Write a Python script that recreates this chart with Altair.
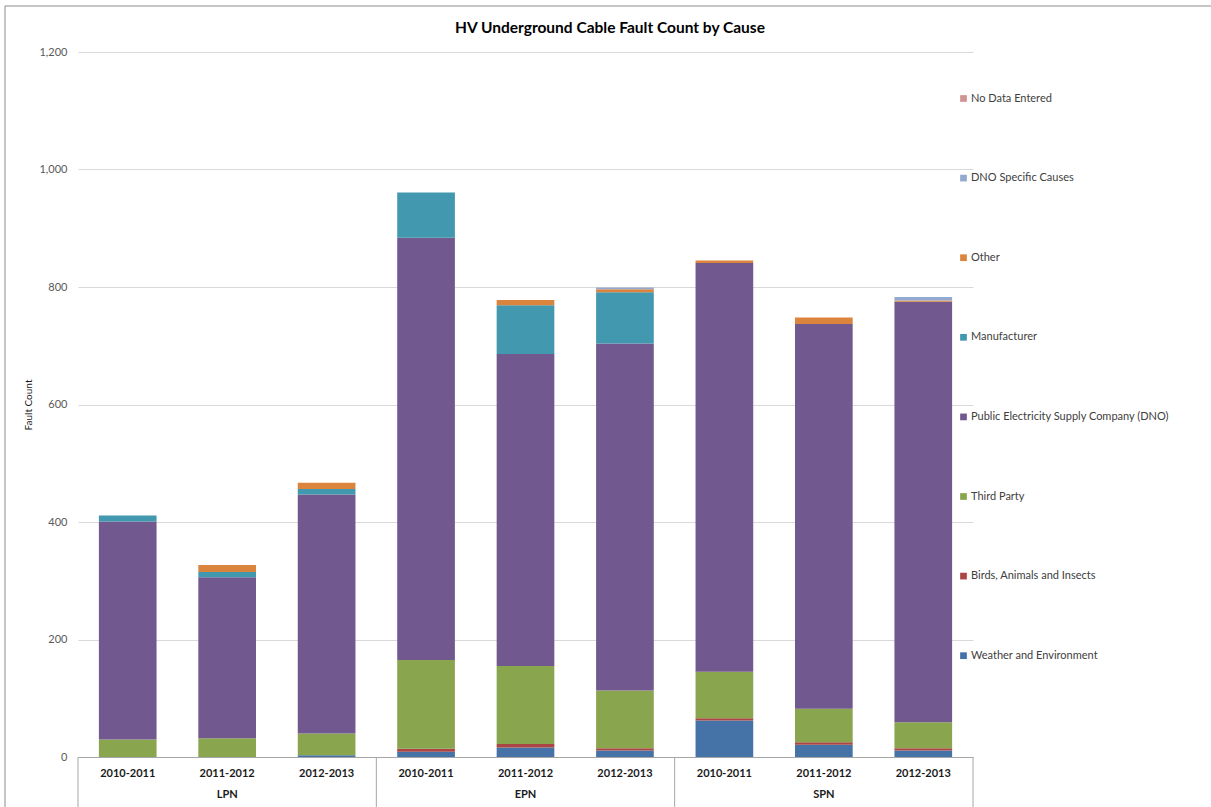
import altair as alt
import pandas as pd

# Regions and reporting years
regions = ["LPN", "EPN", "SPN"]
years = ["2010-2011", "2011-2012", "2012-2013"]

# Fault counts per cause, one value per region/year (LPN x3, EPN x3, SPN x3)
weather = [0, 0, 3, 9, 16, 11, 62, 21, 11]
birds = [0, 0, 0, 5, 6, 4, 4, 4, 4]
third_party = [30, 32, 37, 151, 133, 98, 79, 57, 44]
dno = [371, 274, 407, 719, 531, 591, 696, 655, 716]
manufacturer = [10, 9, 9, 77, 83, 87, 0, 0, 0]
other = [0, 12, 11, 0, 9, 5, 4, 11, 2]
dno_specific = [0, 0, 0, 0, 0, 3, 0, 0, 6]
no_data = [0, 0, 0, 0, 0, 0, 0, 0, 0]

TITLE = "HV Underground Cable Fault Count by Cause"

# Causes in stacking order (bottom to top) with their colours
causes = [
    ("Weather and Environment", weather, "#4572A7"),
    ("Birds, Animals and Insects", birds, "#AA4643"),
    ("Third Party", third_party, "#89A54E"),
    ("Public Electricity Supply Company (DNO)", dno, "#71588F"),
    ("Manufacturer", manufacturer, "#4198AF"),
    ("Other", other, "#DB843D"),
    ("DNO Specific Causes", dno_specific, "#93A9CF"),
    ("No Data Entered", no_data, "#D19392"),
]

keys = [f"{r}|{y}" for r in regions for y in years]

rows = []
for idx, (name, vals, _) in enumerate(causes):
    for k, v in zip(keys, vals):
        rows.append({"key": k, "cause": name, "count": v, "stack": idx})
df = pd.DataFrame(rows)

legend_domain = [c[0] for c in causes][::-1]
legend_range = [c[2] for c in causes][::-1]

FONT = "Lato"
W, H = 895, 705
PAD_IN, PAD_OUT = 0.42, 0.21
HALF_GAP = W / len(keys) * PAD_IN / 2  # half the gap between neighbouring bars

x_scale = alt.Scale(domain=keys, paddingInner=PAD_IN, paddingOuter=PAD_OUT)

x_enc = alt.X(
    "key:N",
    sort=keys,
    scale=x_scale,
    axis=alt.Axis(
        title=None,
        labelExpr="split(datum.value, '|')[1]",
        labelAngle=0,
        labelFontWeight="bold",
        labelFontSize=11,
        labelColor="#1a1a1a",
        labelFont=FONT,
        ticks=False,
        labelPadding=10,
        domainColor="#A6A6A6",
        grid=False,
    ),
)

bars = alt.Chart(df).mark_bar().encode(
    x=x_enc,
    y=alt.Y(
        "sum(count):Q",
        stack="zero",
        scale=alt.Scale(domain=[0, 1200]),
        axis=alt.Axis(
            title="Fault Count",
            values=[0, 200, 400, 600, 800, 1000, 1200],
            format=",.0f",
            domain=False,
            ticks=False,
            labelPadding=11,
            labelFontSize=11,
            labelColor="#595959",
            labelFont=FONT,
            titleFont=FONT,
            titleFontSize=10,
            titleFontWeight="normal",
            titleColor="#1a1a1a",
            titlePadding=5,
            gridColor="#D9D9D9",
        ),
    ),
    color=alt.Color(
        "cause:N",
        scale=alt.Scale(domain=legend_domain, range=legend_range),
        legend=alt.Legend(
            title=None,
            orient="none",
            legendX=880,
            legendY=41,
            symbolType="square",
            symbolSize=45,
            symbolStrokeWidth=0,
            labelFontSize=11,
            labelFont=FONT,
            labelColor="#404040",
            labelOffset=2,
            rowPadding=67.6,
            padding=0,
            labelLimit=300,
        ),
    ),
    order=alt.Order("stack:Q", sort="ascending"),
)

# Region group labels under the year labels
group_df = pd.DataFrame({"key": [f"{r}|{years[1]}" for r in regions], "label": regions})
group_text = alt.Chart(group_df).mark_text(
    fontWeight="bold", fontSize=11, font=FONT, color="#1a1a1a", baseline="middle"
).encode(
    x=alt.X("key:N", sort=keys, scale=x_scale),
    y=alt.value(743),
    text="label:N",
)

# Vertical separators between the region groups
sep_left = pd.DataFrame({"key": [f"{r}|{years[0]}" for r in regions]})
sep_right = pd.DataFrame({"key": [keys[-1]]})
sep_a = alt.Chart(sep_left).mark_rule(color="#A6A6A6", strokeWidth=1, xOffset=-HALF_GAP).encode(
    x=alt.X("key:N", sort=keys, bandPosition=0, scale=x_scale),
    y=alt.value(705),
    y2=alt.value(755),
)
sep_b = alt.Chart(sep_right).mark_rule(color="#A6A6A6", strokeWidth=1, xOffset=HALF_GAP).encode(
    x=alt.X("key:N", sort=keys, bandPosition=1, scale=x_scale),
    y=alt.value(705),
    y2=alt.value(755),
)

# Chart title
title_df = pd.DataFrame({"t": [TITLE]})
title = alt.Chart(title_df).mark_text(
    font=FONT, fontSize=15.5, fontWeight="bold", color="#000000", baseline="middle", align="center"
).encode(x=alt.value(532), y=alt.value(-24), text="t:N")

# Chart-area frame (top and left edges)
frame_df = pd.DataFrame({"edge": ["top", "left"]})
frame_top = alt.Chart(frame_df.iloc[[0]]).mark_rule(color="#8C8C8C", strokeWidth=1).encode(
    x=alt.value(-73), x2=alt.value(1140), y=alt.value(-46)
)
frame_left = alt.Chart(frame_df.iloc[[1]]).mark_rule(color="#8C8C8C", strokeWidth=1).encode(
    x=alt.value(-73), y=alt.value(-46), y2=alt.value(760)
)

chart = alt.layer(bars, group_text, sep_a, sep_b, title, frame_top, frame_left).properties(
    width=W,
    height=H,
    autosize=alt.AutoSizeParams(type="none"),
    padding={"left": 78, "top": 52, "right": 238, "bottom": 50},
    background="white",
).configure_view(stroke=None)

chart.save("out.html", embed_options={"renderer": "svg", "actions": False})
